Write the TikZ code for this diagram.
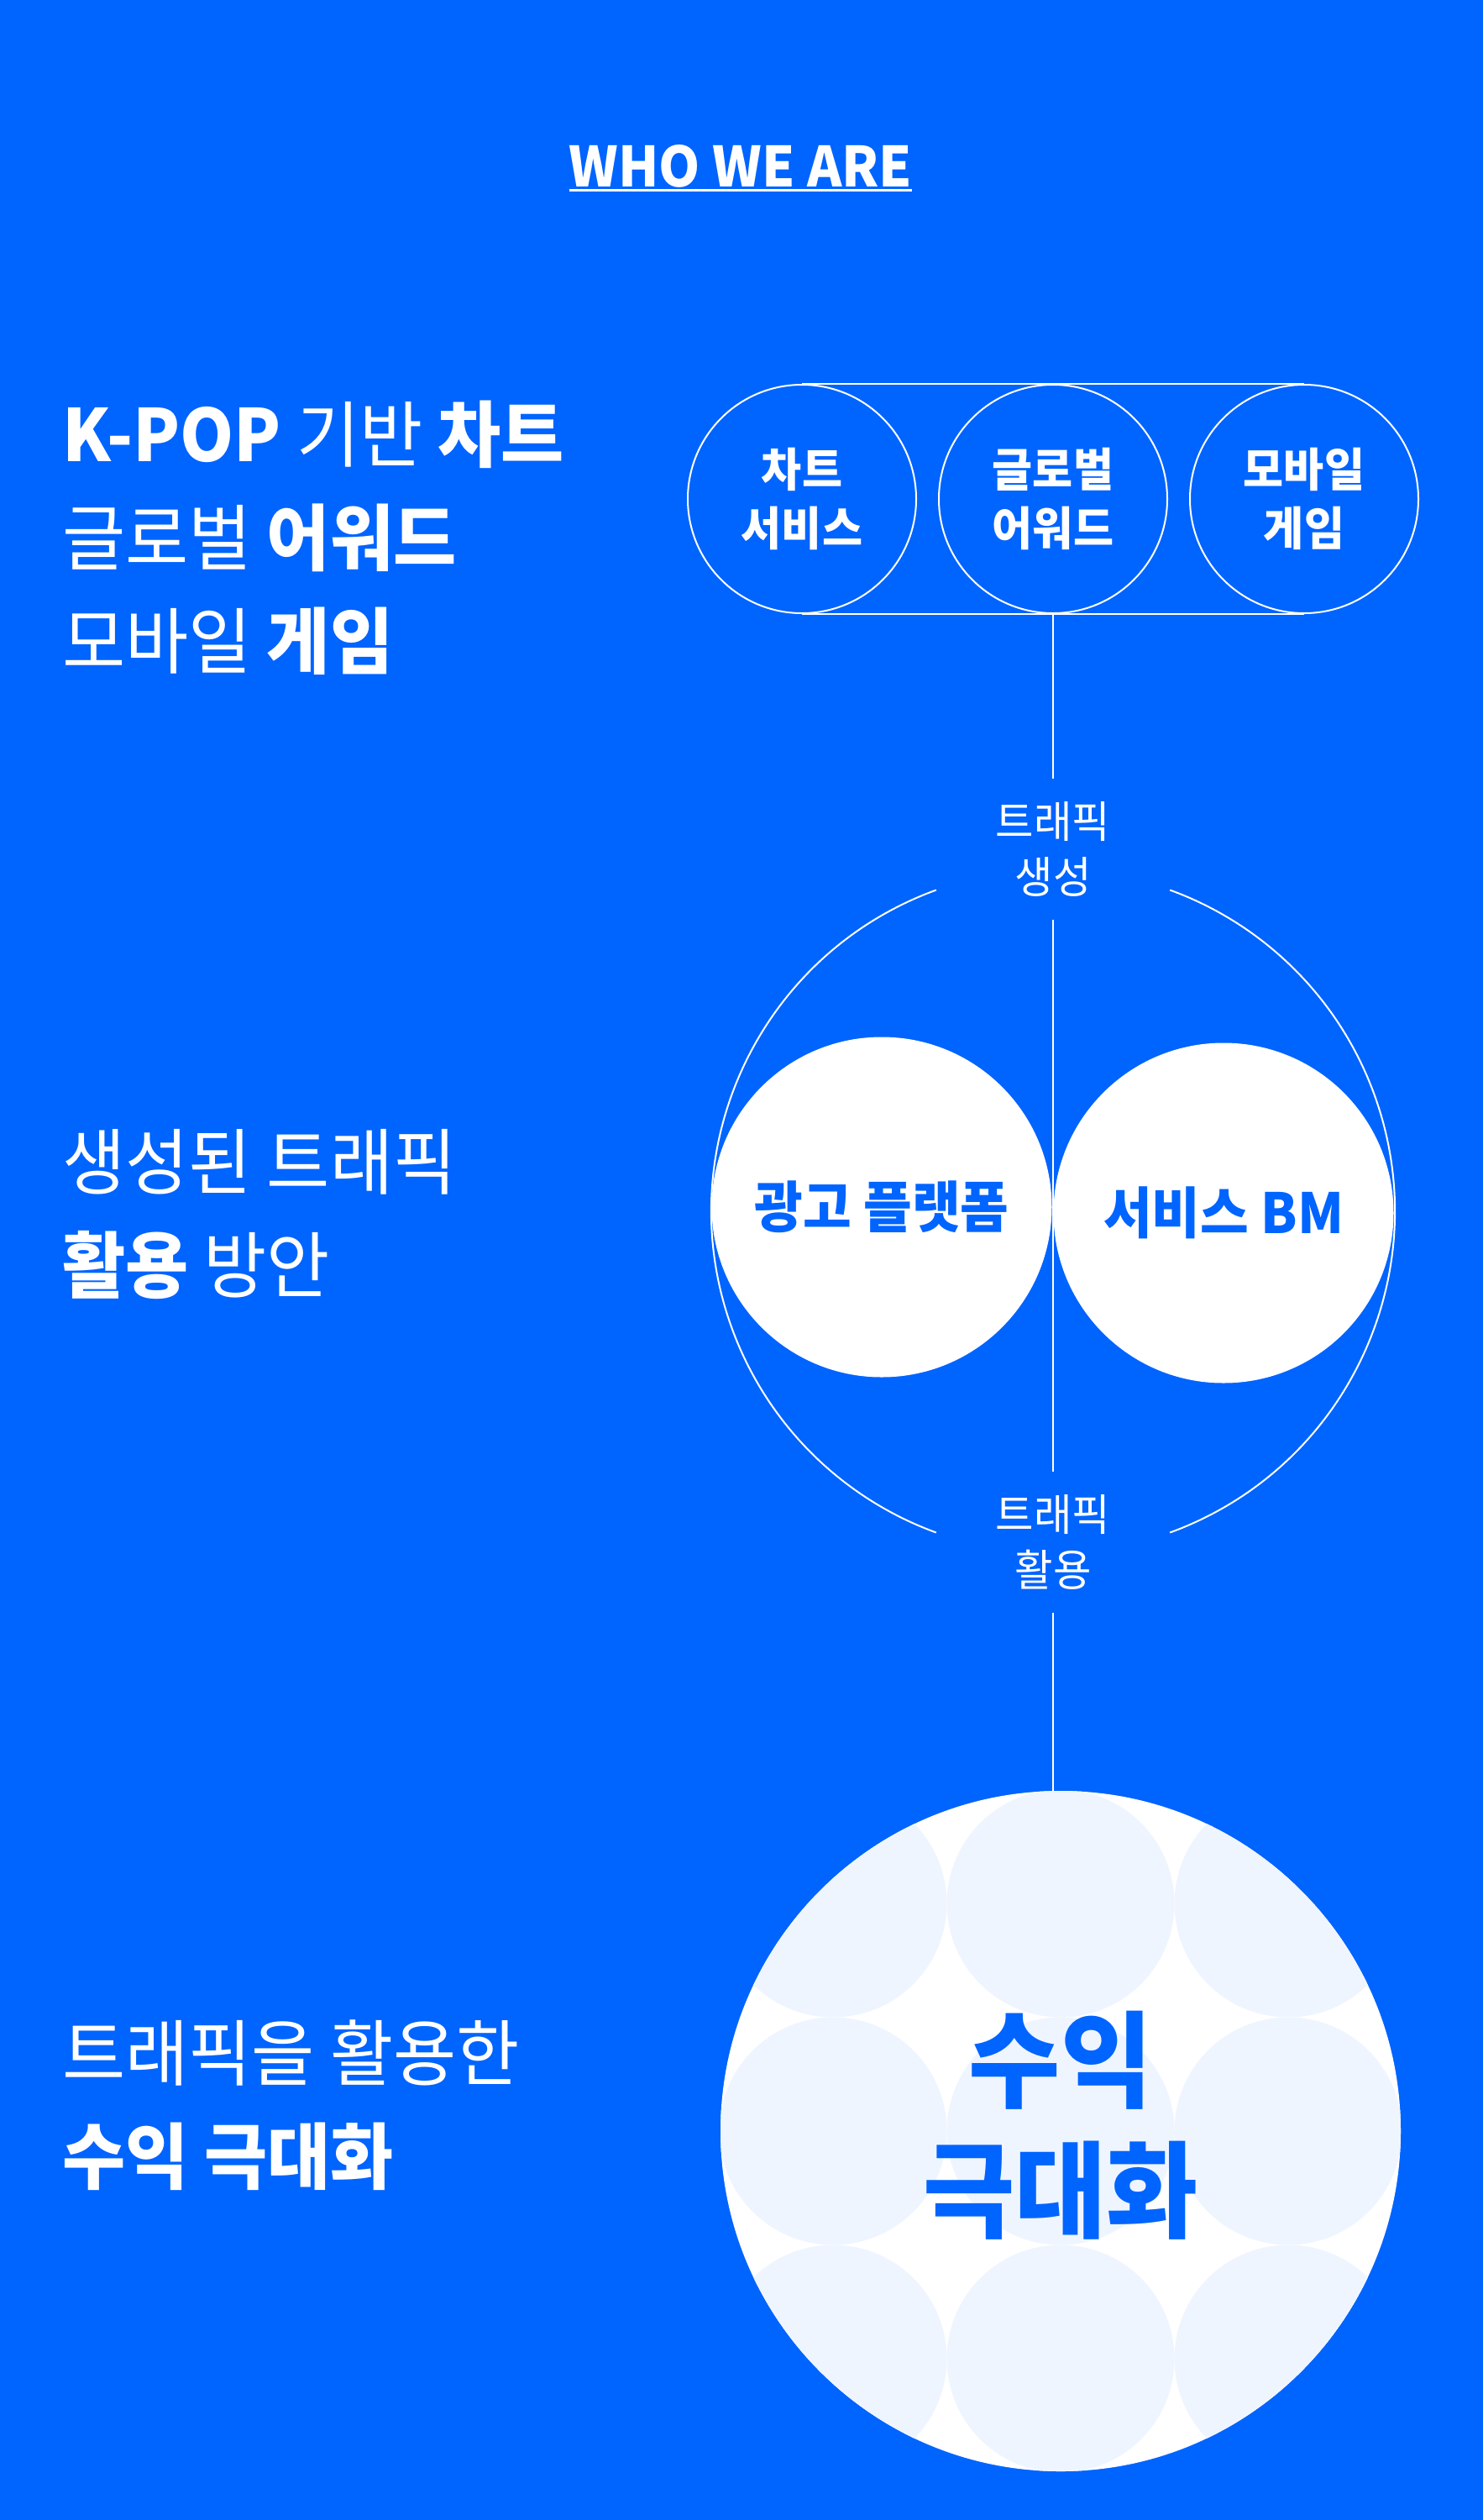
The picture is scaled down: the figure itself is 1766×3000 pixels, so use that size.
\documentclass[tikz,border=0pt]{standalone}
\usepackage{fontspec}
\setmainfont{Noto Sans CJK KR}[FakeStretch=0.95]
\definecolor{bg}{RGB}{0,100,255}
\definecolor{pale}{RGB}{239,245,255}
\begin{document}
\begin{tikzpicture}[x=1pt,y=1pt,
  ln/.style={white,line width=2pt},
  topc/.style={circle,draw=white,line width=2pt,minimum size=272pt,inner sep=0pt,text=white,align=center,font=\fontsize{55}{70}\selectfont\bfseries},
  lbl/.style={inner xsep=0pt,inner ysep=27pt,text=white,align=center,font=\fontsize{52}{66}\selectfont},
  wc/.style={circle,fill=white,minimum size=405pt,inner sep=0pt,text=bg,font=\fontsize{66}{70}\selectfont\bfseries},
  lt/.style={anchor=west,align=left,inner sep=0pt,text=white,font=\fontsize{86}{123}\selectfont}]
\useasboundingbox (0,0) rectangle (1766,-3000);
\fill[bg] (0,0) rectangle (1766,-3000);
% title
\node[font=\fontsize{66}{70}\selectfont\bfseries,text=white,inner sep=0pt] (who) at (882,-198) {WHO WE ARE};
\draw[white,line width=3pt] ([yshift=-4pt]who.base west) -- ([yshift=-4pt]who.base east);
% left texts
\node[lt] (t1) at (74,-640) {\textbf{K-POP} 기반 \textbf{차트}\\글로벌 \textbf{어워드}\\모바일 \textbf{게임}};
\node[lt] (t2) at (74,-1446) {생성된 트래픽\\\textbf{활용} 방안};
\node[lt] (t3) at (74,-2506) {트래픽을 활용한\\\textbf{수익 극대화}};
% top capsule
\node[topc] (c1) at (955,-594) {차트\\서비스};
\node[topc] (c2) at (1254,-594) {글로벌\\어워드};
\node[topc] (c3) at (1553,-594) {모바일\\게임};
\draw[ln] (c1.north) -- (c3.north);
\draw[ln] (c1.south) -- (c3.south);
% labels
\node[lbl] (gen) at (1254,-1011) {트래픽\\생성};
\node[lbl] (use) at (1254,-1836) {트래픽\\활용};
% middle ring
\coordinate (mid) at (1254,-1442);
\draw[ln] (mid) ++(110:407) arc[start angle=110,end angle=250,radius=407];
\draw[ln] (mid) ++(-70:407) arc[start angle=-70,end angle=70,radius=407];
\node[wc] (ad) at (1050,-1437) {광고 플랫폼};
\node[wc] (bm) at (1457,-1444) {서비스 BM};
% bottom circle
\node[circle,fill=white,minimum size=810pt,inner sep=0pt] (big) at (1263,-2537) {};
\begin{scope}
\clip (big.center) circle (405);
\foreach \dx in {-271,0,271}{
  \foreach \dy in {-271,0,271}{
    \fill[pale] ([shift={(\dx,\dy)}]big.center) circle (135.5);
  }
}
\end{scope}
\node[text=bg,align=center,font=\fontsize{125}{155}\selectfont\bfseries] (rev) at (1263,-2530) {수익\\극대화};
% connectors
\draw[ln] (c2.south) -- (gen.north);
\draw[ln] (gen.south) -- (use.north);
\draw[ln] (use.south) -- (use.south |- big.north);
\end{tikzpicture}
\end{document}
